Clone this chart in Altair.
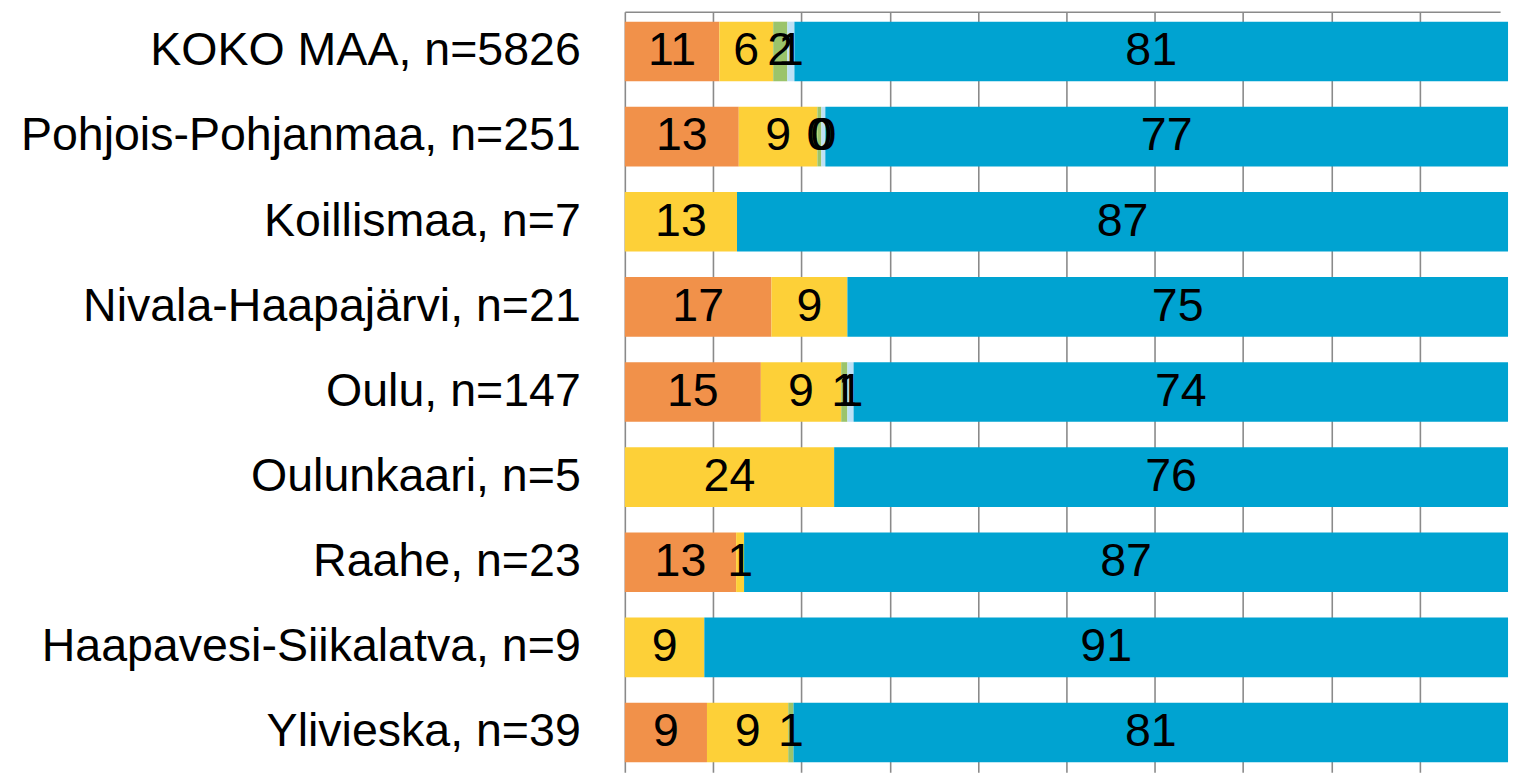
import altair as alt
import pandas as pd

regions = [
    "KOKO MAA, n=5826",
    "Pohjois-Pohjanmaa, n=251",
    "Koillismaa, n=7",
    "Nivala-Haapajärvi, n=21",
    "Oulu, n=147",
    "Oulunkaari, n=5",
    "Raahe, n=23",
    "Haapavesi-Siikalatva, n=9",
    "Ylivieska, n=39",
]
series_names = ["Sarja 1", "Sarja 2", "Sarja 3", "Sarja 4", "Sarja 5"]
s_orange = [10.7, 12.9, 0.0, 16.6, 15.4, 0.0, 12.6, 0.0, 9.3]
s_yellow = [6.1, 8.9, 12.7, 8.6, 9.1, 23.7, 0.9, 9.0, 9.2]
s_green = [1.6, 0.45, 0.0, 0.0, 0.7, 0.0, 0.0, 0.0, 0.6]
s_lightblue = [0.8, 0.45, 0.0, 0.0, 0.7, 0.0, 0.0, 0.0, 0.0]
s_blue = [80.8, 77.3, 87.3, 74.8, 74.1, 76.3, 86.5, 91.0, 80.9]
colors = ["#F1914A", "#FDD038", "#9BC46B", "#BEE1F5", "#00A3D1"]
grid_values = [0, 10, 20, 30, 40, 50, 60, 70, 80, 90, 100]

rows = []
for i, r in enumerate(regions):
    for k, vals in enumerate([s_orange, s_yellow, s_green, s_lightblue, s_blue]):
        rows.append({"region": r, "series": series_names[k], "order": k, "value": vals[i]})
df = pd.DataFrame(rows)

FONT = "Liberation Sans"

base = alt.Chart(df).transform_stack(
    stack="value", as_=["x0", "x1"], groupby=["region"],
    sort=[alt.SortField("order", order="ascending")]
).transform_calculate(
    mid="(datum.x0 + datum.x1) / 2",
    label="format(datum.value, '.0f')"
)

yenc = alt.Y(
    "region:N", sort=regions,
    scale=alt.Scale(paddingInner=0.3, paddingOuter=0.116),
    axis=alt.Axis(title=None, ticks=False, domain=False, grid=False,
                  labelFont=FONT, labelFontSize=47, labelColor="black",
                  labelPadding=45, minExtent=618, maxExtent=618, labelLimit=0),
)
xscale = alt.Scale(domain=[0, 99.1], nice=False)

bars = base.mark_bar().encode(
    x=alt.X("x0:Q", scale=xscale,
            axis=alt.Axis(orient="top", labels=False, ticks=False, title=None,
                          grid=True, gridColor="#8a8a8a", gridWidth=1.6,
                          values=grid_values, domainColor="#8a8a8a", domainWidth=1.6,
                          minExtent=0, maxExtent=0)),
    x2="x1:Q",
    y=yenc,
    color=alt.Color("series:N", scale=alt.Scale(domain=series_names, range=colors), legend=None),
)

texts = base.transform_filter("datum.value > 0").mark_text(
    font=FONT, fontSize=47, color="black", align="center", baseline="middle"
).encode(
    x=alt.X("mid:Q", scale=xscale),
    y=yenc,
    text="label:N",
)

chart = alt.layer(bars, texts).properties(
    width=884, height=768,
    padding={"left": 5, "top": 0, "right": 0, "bottom": 0},
).configure_view(stroke=None).configure_axis(labelFont=FONT)

chart.save("out.html", embed_options={"renderer": "svg", "actions": False})
